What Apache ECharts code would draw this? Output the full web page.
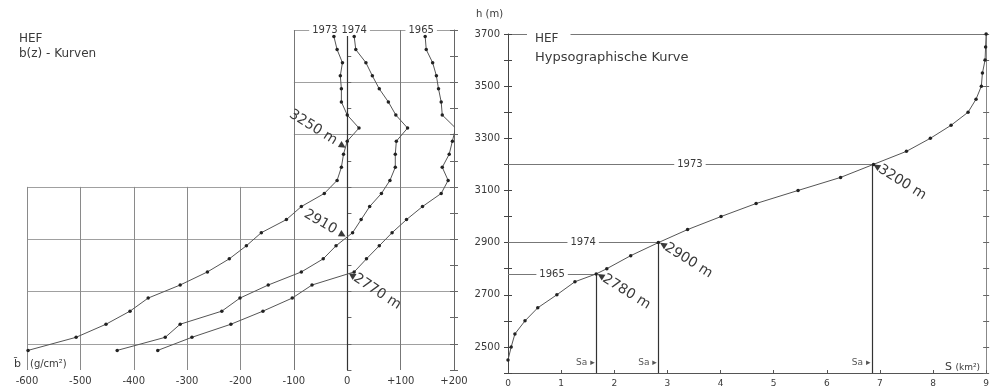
<!DOCTYPE html>
<html><head><meta charset="utf-8">
<script src="https://cdn.jsdelivr.net/npm/echarts@6/dist/echarts.min.js"></script>
<style>html,body{margin:0;padding:0;background:#fff}#c{width:992px;height:388px}</style>
</head><body><div id="c"></div>
<script>
// ---- left panel: b(z) curves (b in g/cm2 vs height in m)
const bHeights = [2475,2525,2575,2625,2675,2725,2775,2825,2875,2925,2975,3025,3075,3125,3175,3225,3275,3325,3375,3425,3475,3525,3575,3625,3675];
const b1973 = [-598,-508,-452,-407,-373,-313,-262,-221,-189,-161,-114,-86,-43,-19,-11,-7,0,22,0,-11,-11,-13,-9,-19,-25];
const b1974 = [-431,-341,-313,-235,-201,-148,-86,-45,-21,10,26,42,64,80,90,90,92,113,91,77,60,47,35,16,13];
const b1965 = [-355,-291,-218,-158,-103,-66,13,36,60,84,111,141,176,189,178,191,197,203,178,176,171,167,160,148,146];
const bYears = ['1973','1974','1965'];
const bCrossings = [3250, 2910, 2770];
const bCrossLabels = ['3250 m', '2910', '2770 m'];
const bTickLabels = ['-600','-500','-400','-300','-200','-100','0','+100','+200'];
// ---- right panel: hypsographic curve (area S in km2 vs height)
const hypsoH = [2450,2500,2550,2600,2650,2700,2750,2780,2800,2850,2900,2950,3000,3050,3100,3150,3200,3250,3300,3350,3400,3450,3500,3550,3600,3650,3700];
const hypsoS = [0.0,0.06,0.13,0.32,0.56,0.92,1.26,1.66,1.86,2.31,2.83,3.38,4.01,4.67,5.46,6.26,6.88,7.50,7.95,8.34,8.66,8.81,8.91,8.93,8.98,8.99,9.0];
const saYears = ['1965','1974','1973'];
const saHeights = [2780, 2900, 3200];
const saValues = [1.66, 2.83, 6.85];
const sTickLabels = ['0','1','2','3','4','5','6','7','8','9'];
const hTickLabels = ['2500','2700','2900','3100','3300','3500','3700'];

const F = 'DejaVu Sans';
const INK = '#3a3a3a', GRIDC = '#a0a0a0', LINE = '#555';
const pairs = (xs, ys) => xs.map((x, i) => [x, ys[i]]);
const chart = echarts.init(document.getElementById('c'), null, {renderer: 'canvas', width: 992, height: 388});

const bSeries = [b1973, b1974, b1965];
const topOffsets = [-9, 0, -4];
const crossCfg = [
  {text: bCrossLabels[0] + ' \u25B8', position: 'left', rotate: -32},
  {text: bCrossLabels[1] + ' \u25B8', position: 'left', rotate: -30},
  {text: '\u25C2' + bCrossLabels[2], position: 'right', rotate: -33}
];
const txt = (o) => Object.assign({color: INK, fontFamily: F}, o);

const leftSeries = bSeries.map((vals, k) => ({
  type: 'line', xAxisIndex: 0, yAxisIndex: 0, data: pairs(vals, bHeights),
  symbol: 'circle', symbolSize: 3.5, showSymbol: true, animation: false, z: 5,
  itemStyle: {color: '#222'}, lineStyle: {color: LINE, width: 1},
  markPoint: {
    symbol: 'circle', symbolSize: 1, itemStyle: {color: 'rgba(0,0,0,0)'}, animation: false, silent: true,
    data: [
      {coord: [vals[vals.length - 1], 3700],
       label: txt({show: true, formatter: bYears[k], position: 'inside', offset: [topOffsets[k], 0],
         backgroundColor: '#fff', padding: [1, 3], fontSize: 10})},
      {coord: [0, bCrossings[k]],
       label: txt({show: true, formatter: crossCfg[k].text, position: crossCfg[k].position, distance: 1,
         rotate: crossCfg[k].rotate, fontSize: 14})}
    ]
  },
  markLine: k === 0 ? {silent: true, symbol: 'none', animation: false, label: {show: false},
    lineStyle: {color: '#333', width: 1.2, type: 'solid'}, data: [{xAxis: 0}]} : undefined
}));

const yearLines = [];
saYears.forEach((y, i) => {
  yearLines.push([
    {coord: [0, saHeights[i]], lineStyle: {color: '#777', width: 1, type: 'solid'},
     label: txt({show: true, formatter: y, position: 'middle', distance: 0, verticalAlign: 'middle',
       backgroundColor: '#fff', padding: [0, 3], fontSize: 10})},
    {coord: [saValues[i], saHeights[i]]}
  ]);
  yearLines.push([
    {coord: [saValues[i], saHeights[i]], lineStyle: {color: '#333', width: 1.2, type: 'solid'}, label: {show: false}},
    {coord: [saValues[i], 2400]}
  ]);
});
const rightMarks = [];
saYears.forEach((y, i) => {
  rightMarks.push({coord: [saValues[i], 2438],
    label: txt({show: true, formatter: 'Sa \u25B8', position: 'left', distance: 1, fontSize: 9, color: '#555'})});
  rightMarks.push({coord: [saValues[i], saHeights[i]],
    label: txt({show: true, formatter: '\u25C2' + saHeights[i] + ' m', position: 'right', distance: 1, rotate: -32, fontSize: 14})});
});

const hideAxis = {axisLine: {show: false}, axisTick: {show: false}, axisLabel: {show: false}, splitLine: {show: false}};

chart.setOption({
  backgroundColor: '#fff',
  animation: false,
  textStyle: {fontFamily: F, color: INK},
  title: [
    {text: 'HEF', left: 14, top: 28, textStyle: {fontSize: 12, fontWeight: 'normal', color: INK, fontFamily: F}},
    {text: 'b(z) - Kurven', left: 14, top: 43, textStyle: {fontSize: 12, fontWeight: 'normal', color: INK, fontFamily: F}},
    {text: 'HEF', left: 527, top: 28, backgroundColor: '#fff', padding: [5, 12, 2, 8], textStyle: {fontSize: 12, fontWeight: 'normal', color: INK, fontFamily: F}},
    {text: 'Hypsographische Kurve', left: 535, top: 51, padding: 0, textStyle: {fontSize: 13, fontWeight: 'normal', color: INK, fontFamily: F}}
  ],
  grid: [
    {left: 27, top: 30, width: 427, height: 340},
    {left: 27, top: 186.9, width: 427, height: 183.1},
    {left: 293.9, top: 30, width: 160.1, height: 340},
    {left: 508, top: 34, width: 480, height: 339}
  ],
  xAxis: [
    {gridIndex: 0, type: 'value', min: -600, max: 200, interval: 100,
     axisLine: {show: false}, axisTick: {show: false}, splitLine: {show: false},
     axisLabel: {margin: 6, fontSize: 10, color: INK, fontFamily: F,
       formatter: v => bTickLabels[Math.round((v + 600) / 100)]}},
    Object.assign({gridIndex: 1, type: 'value', min: -600, max: 200, interval: 100}, hideAxis,
      {splitLine: {show: true, lineStyle: {color: '#8a8a8a', width: 1}}}),
    Object.assign({gridIndex: 2, type: 'value', min: -100, max: 200, interval: 100}, hideAxis,
      {splitLine: {show: true, lineStyle: {color: '#777', width: 1}}}),
    {gridIndex: 3, type: 'value', min: 0, max: 9, interval: 1, position: 'bottom',
     axisLine: {show: true, lineStyle: {color: '#555', width: 1}},
     axisTick: {show: true, inside: true, length: 3, lineStyle: {color: '#555'}},
     splitLine: {show: false},
     axisLabel: {margin: 6, fontSize: 9, color: INK, fontFamily: F, formatter: v => sTickLabels[Math.round(v)]}},
    Object.assign({gridIndex: 3, type: 'value', min: 0, max: 9, position: 'top'}, hideAxis,
      {axisLine: {show: true, lineStyle: {color: '#777', width: 1}}})
  ],
  yAxis: [
    Object.assign({gridIndex: 0, type: 'value', min: 2400, max: 3700}, hideAxis),
    {gridIndex: 1, type: 'value', min: 2400, max: 3100, interval: 100, position: 'left',
     axisLine: {show: true, lineStyle: {color: '#666'}}, axisTick: {show: true, inside: true, length: 4, lineStyle: {color: '#666'}},
     axisLabel: {show: false},
     splitLine: {show: true, lineStyle: {color: ['rgba(0,0,0,0)', GRIDC], width: 1}}},
    {gridIndex: 2, type: 'value', min: 2400, max: 3700, interval: 100, position: 'left',
     axisLine: {show: true, lineStyle: {color: '#666'}}, axisTick: {show: true, inside: true, length: 4, lineStyle: {color: '#666'}},
     axisLabel: {show: false},
     splitLine: {show: true, lineStyle: {color: ['rgba(0,0,0,0)', GRIDC], width: 1}}},
    {gridIndex: 2, type: 'value', min: 2400, max: 3700, interval: 100, position: 'right',
     axisLine: {show: true, lineStyle: {color: '#666'}}, axisTick: {show: true, inside: true, length: 4, lineStyle: {color: '#666'}},
     axisLabel: {show: false}, splitLine: {show: false}},
    {gridIndex: 2, type: 'value', min: 2400, max: 3700, interval: 100, position: 'right',
     axisLine: {show: false}, axisTick: {show: true, inside: false, length: 4, lineStyle: {color: '#666'}},
     axisLabel: {show: false}, splitLine: {show: false}},
    {gridIndex: 3, type: 'value', min: 2400, max: 3700, interval: 100, position: 'left',
     axisLine: {show: true, lineStyle: {color: '#444'}}, axisTick: {show: true, inside: false, length: 4, lineStyle: {color: '#444'}},
     axisLabel: {margin: 8, fontSize: 10, color: INK, fontFamily: F,
       formatter: v => hTickLabels.includes(String(v)) ? String(v) : ''},
     splitLine: {show: false}},
    {gridIndex: 3, type: 'value', min: 2400, max: 3700, interval: 100, position: 'left',
     axisLine: {show: false}, axisTick: {show: true, inside: true, length: 4, lineStyle: {color: '#444'}},
     axisLabel: {show: false}, splitLine: {show: false}},
    {gridIndex: 3, type: 'value', min: 2400, max: 3700, interval: 100, position: 'right',
     axisLine: {show: true, lineStyle: {color: '#888'}}, axisTick: {show: true, inside: true, length: 3, lineStyle: {color: '#666'}},
     axisLabel: {show: false}, splitLine: {show: false}},
    {gridIndex: 3, type: 'value', min: 2400, max: 3700, interval: 100, position: 'right',
     axisLine: {show: false}, axisTick: {show: true, inside: false, length: 3, lineStyle: {color: '#666'}},
     axisLabel: {show: false}, splitLine: {show: false}}
  ],
  graphic: [
    {type: 'text', left: 476, top: 9, style: {text: 'h (m)', fontSize: 10, fill: INK, fontFamily: F}},
    {type: 'text', left: 941, top: 362, z: 100, style: {text: '{s|S} {u|(km\u00B2)}', backgroundColor: '#fff', padding: [0, 2, 0, 4],
      rich: {s: {fontSize: 11, fill: INK, fontFamily: F}, u: {fontSize: 9, fill: INK, fontFamily: F}}, fontSize: 11, fill: INK, fontFamily: F}},
    {type: 'text', left: 14, top: 359, style: {text: 'b\u0304', fontSize: 11, fill: INK, fontFamily: F}},
    {type: 'text', left: 30, top: 359, style: {text: '(g/cm\u00B2)', fontSize: 10, fill: INK, fontFamily: F}}
  ],
  series: leftSeries.concat([{
    type: 'line', xAxisIndex: 3, yAxisIndex: 5, data: pairs(hypsoS, hypsoH),
    symbol: 'circle', symbolSize: 3.5, showSymbol: true, animation: false, z: 5,
    itemStyle: {color: '#222'}, lineStyle: {color: LINE, width: 1},
    markLine: {silent: true, symbol: 'none', animation: false, label: {show: false}, data: yearLines},
    markPoint: {symbol: 'circle', symbolSize: 1, itemStyle: {color: 'rgba(0,0,0,0)'}, animation: false, silent: true, data: rightMarks}
  }])
});
</script></body></html>
